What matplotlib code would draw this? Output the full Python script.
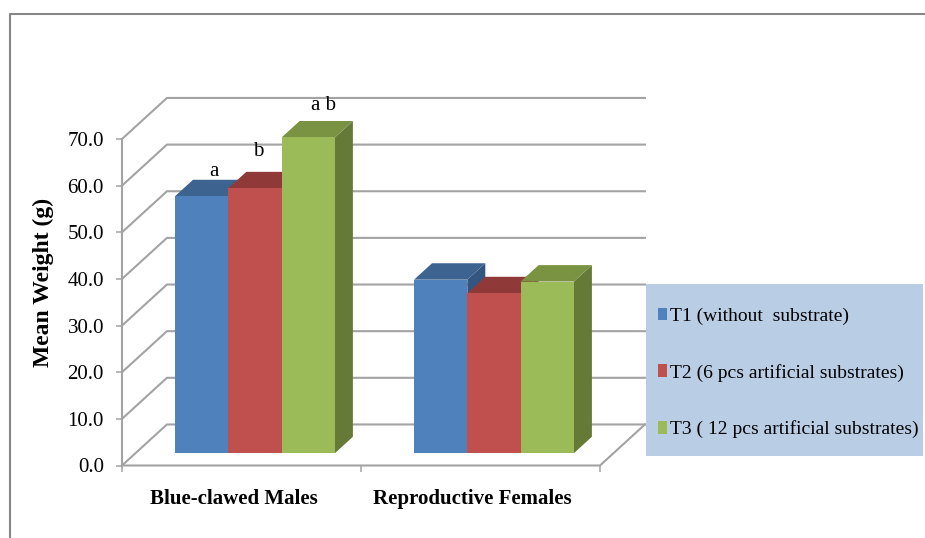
"""Mean weight by treatment, drawn in the look of a 3-D clustered column chart."""
import matplotlib
matplotlib.use("Agg")
import matplotlib.pyplot as plt
from matplotlib.lines import Line2D
from matplotlib.patches import Patch, Polygon, Rectangle
from matplotlib.transforms import ScaledTranslation

categories = ["Blue-clawed Males", "Reproductive Females"]
treatments = [
    "T1 (without  substrate)",
    "T2 (6 pcs artificial substrates)",
    "T3 ( 12 pcs artificial substrates)",
]
t1_values = [55.1, 37.2]
t2_values = [56.8, 34.3]
t3_values = [67.7, 36.8]
male_letters = ["a", "b", "a b"]
y_ticks = [0, 10, 20, 30, 40, 50, 60, 70]

# (front, top, side) shades per series
SHADES = [
    ("#4F81BD", "#3D6391", "#33557F"),
    ("#C0504D", "#8F3A38", "#7F3331"),
    ("#9BBB59", "#7A9343", "#667A37"),
]
GRID = "#A3A3A3"
BORDER = "#868686"
FONT = "Liberation Serif"

# depth of the floor, in data units
DEPTH_X = 0.188
DEPTH_Y = 8.8
BAR_W = 0.223
BAR_D0, BAR_D1 = 0.3, 0.7
# letters sit by hand above the male bars (points from the front top edge)
LETTER_OFFSETS = [(8.6, 14.4), (2.2, 23), (10.8, 20)]

W, H = 925, 538


def proj(x, y, d):
    return x + d * DEPTH_X, y + d * DEPTH_Y


def draw_bar(ax, center, value, shades):
    front, top, side = shades
    x0, x1 = center - BAR_W / 2, center + BAR_W / 2
    faces = [
        (side, [(x1, 0, BAR_D0), (x1, 0, BAR_D1), (x1, value, BAR_D1), (x1, value, BAR_D0)]),
        (top, [(x0, value, BAR_D0), (x1, value, BAR_D0), (x1, value, BAR_D1), (x0, value, BAR_D1)]),
        (front, [(x0, 0, BAR_D0), (x1, 0, BAR_D0), (x1, value, BAR_D0), (x0, value, BAR_D0)]),
    ]
    for color, corners in faces:
        ax.add_patch(Polygon([proj(*c) for c in corners], closed=True, facecolor=color,
                             edgecolor="none", clip_on=False, zorder=3))


plt.rcParams["font.family"] = FONT
fig = plt.figure(figsize=(W / 100, H / 100), dpi=100)
ax = fig.add_axes([122 / W, 1 - 465.5 / H, 478 / W, 326.5 / H])
ax.set_xlim(0, 2)
ax.set_ylim(0, 70)
for spine in ax.spines.values():
    spine.set_visible(False)
ax.patch.set_visible(False)

# outer chart border, open at right and bottom as in the crop
fig.add_artist(Line2D([9.5 / W, 9.5 / W, 1], [0, 1 - 13.5 / H, 1 - 13.5 / H], color=BORDER, lw=1.5))

# walls and floor
for v in y_ticks:
    pts = [proj(0, v, 0), proj(0, v, 1), proj(2, v, 1)]
    ax.plot(*zip(*pts), color=GRID, lw=1.5, clip_on=False, zorder=1, solid_joinstyle="miter")
ax.plot([0, 0], [0, 70], color=GRID, lw=1.5, clip_on=False, zorder=1)
floor = [proj(0, 0, 0), proj(2, 0, 0), proj(2, 0, 1)]
ax.plot(*zip(*floor), color=GRID, lw=1.5, clip_on=False, zorder=1)

series = [t1_values, t2_values, t3_values]
for i in range(len(categories)):
    for j, values in enumerate(series):
        center = i + 0.5 + (j - 1) * BAR_W
        draw_bar(ax, center, values[i], SHADES[j])
        if i == 0:
            ax.annotate(male_letters[j], xy=proj(center, values[i], BAR_D0),
                        xytext=LETTER_OFFSETS[j], textcoords="offset points", ha="center",
                        va="baseline", fontsize=15, color="black", zorder=4,
                        annotation_clip=False)

# ticks
ax.set_yticks(y_ticks)
ax.set_yticklabels([f"{v:.1f}" for v in y_ticks], fontsize=15)
ax.tick_params(axis="y", length=4.5, width=1.1, color=GRID, pad=8.5)
ax.set_xticks([0, 1, 2])
ax.set_xticklabels([])
ax.set_xticks([0.5, 1.5], minor=True)
ax.set_xticklabels(categories, minor=True, fontsize=15, fontweight="bold")
ax.tick_params(axis="x", which="major", length=4.5, width=1.1, color=GRID)
ax.tick_params(axis="x", which="minor", length=0, pad=17)
shift = ScaledTranslation(-8 / 100, 0, fig.dpi_scale_trans)
for lbl in ax.get_xticklabels(minor=True):
    lbl.set_transform(lbl.get_transform() + shift)

fig.text(43.5 / W, 1 - 282 / H, "Mean Weight (g)", rotation=90, ha="center", va="center",
         fontsize=17, fontweight="bold")

# legend box and entries
fig.add_artist(Rectangle((646 / W, 1 - 456 / H), 277 / W, 172.5 / H, facecolor="#B9CDE5",
                         edgecolor="none", transform=fig.transFigure, zorder=5))
handles = [Patch(facecolor=s[0], edgecolor="none") for s in SHADES]
leg = fig.legend(handles, treatments, loc="upper left",
                 bbox_to_anchor=(658 / W, 1 - 307.5 / H), borderaxespad=0,
                 fontsize=14, frameon=False, handlelength=0.46, handleheight=0.62,
                 handletextpad=0.17, labelspacing=2.0, borderpad=0)
leg.set_zorder(6)

fig.savefig("out.png", dpi=100)
